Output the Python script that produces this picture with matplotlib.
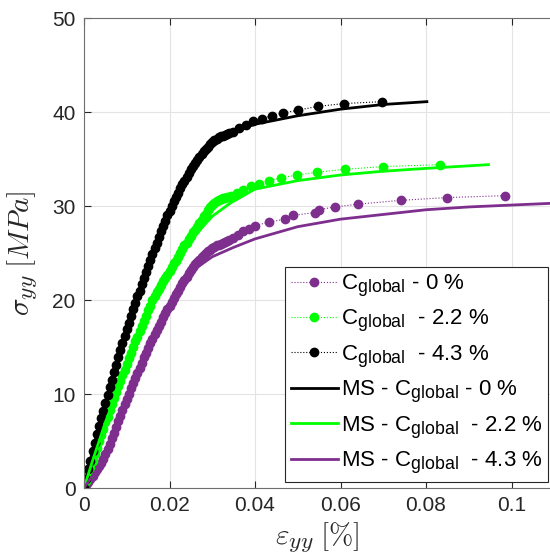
import matplotlib
matplotlib.use("Agg")
import matplotlib.pyplot as plt
import matplotlib._mathtext as mathtext_internals

plt.rcParams['font.family'] = ['Liberation Sans', 'DejaVu Sans']
plt.rcParams['mathtext.fontset'] = 'custom'
plt.rcParams['mathtext.rm'] = 'Liberation Sans'
plt.rcParams['mathtext.it'] = 'Liberation Sans:italic'
plt.rcParams['mathtext.bf'] = 'Liberation Sans:bold'
# MATLAB draws subscripts a bit larger than matplotlib's default
mathtext_internals.SHRINK_FACTOR = 0.8

# experimental points: dense part shares one strain grid, then sparse tails
strain_dense = [0, 0.0005, 0.001, 0.0015, 0.002, 0.0025, 0.003, 0.0035, 0.004, 0.0045,
                0.005, 0.0055, 0.006, 0.0065, 0.007, 0.0075, 0.008, 0.0085, 0.009, 0.0095,
                0.010, 0.0105, 0.011, 0.0115, 0.012, 0.0125, 0.013, 0.0135, 0.014, 0.0145,
                0.015, 0.0155, 0.016, 0.0165, 0.017, 0.0175, 0.018, 0.0185, 0.019, 0.0195,
                0.020, 0.0205, 0.021, 0.0215, 0.022, 0.0225, 0.023, 0.0235, 0.024, 0.0245,
                0.025, 0.0255, 0.026, 0.0265, 0.027, 0.0275, 0.028, 0.0285, 0.029, 0.0295,
                0.030, 0.0305, 0.031, 0.0315, 0.032, 0.0325, 0.033, 0.0335, 0.034]

stress_dense_0 = [0, 0.3, 0.6, 0.95, 1.3, 1.65, 2.0, 2.35, 2.7, 3.1,
                  3.6, 4.1, 4.7, 5.3, 5.9, 6.5, 7.1, 7.7, 8.3, 8.9,
                  9.5, 10.05, 10.6, 11.15, 11.7, 12.25, 12.8, 13.35, 13.9, 14.4,
                  14.9, 15.4, 15.9, 16.35, 16.8, 17.25, 17.7, 18.15, 18.6, 19.0,
                  19.4, 19.8, 20.2, 20.6, 21.0, 21.4, 21.8, 22.15, 22.5, 22.85,
                  23.2, 23.5, 23.8, 24.05, 24.3, 24.55, 24.8, 25.0, 25.2, 25.35,
                  25.5, 25.65, 25.8, 25.9, 26.0, 26.1, 26.2, 26.3, 26.4]
strain_tail_0 = [0.0349, 0.0361, 0.0373, 0.0386, 0.040, 0.0433, 0.047, 0.0488, 0.054,
                 0.055, 0.0586, 0.0642, 0.0741, 0.085, 0.0985]
stress_tail_0 = [26.6, 26.9, 27.3, 27.6, 27.9, 28.3, 28.6, 29.0, 29.3,
                 29.6, 29.9, 30.2, 30.6, 30.9, 31.1]

stress_dense_22 = [0, 0.7, 1.4, 2.1, 2.9, 3.6, 4.3, 5.0, 5.6, 6.3,
                   7.0, 7.6, 8.3, 8.9, 9.6, 10.2, 10.8, 11.4, 12.0, 12.6,
                   13.2, 13.8, 14.4, 15.0, 15.6, 16.1, 16.7, 17.2, 17.8, 18.3,
                   18.9, 19.4, 20.0, 20.4, 20.8, 21.2, 21.6, 22.0, 22.3, 22.7,
                   23.1, 23.5, 23.9, 24.2, 24.6, 25.0, 25.4, 25.8, 26.1, 26.5,
                   26.8, 27.2, 27.5, 27.8, 28.2, 28.5, 28.9, 29.2, 29.6, 29.9,
                   30.1, 30.3, 30.5, 30.6, 30.7, 30.8, 30.9, 31.0, 31.0]
strain_tail_22 = [0.0345, 0.0357, 0.0373, 0.039, 0.0409, 0.0433, 0.0461, 0.0498,
                  0.0546, 0.061, 0.070, 0.0833]
stress_tail_22 = [31.1, 31.4, 31.7, 32.1, 32.3, 32.7, 33.0, 33.3,
                  33.6, 33.9, 34.2, 34.4]

stress_dense_43 = [0, 1.0, 2.0, 2.9, 3.9, 4.8, 5.7, 6.6, 7.4, 8.2,
                   9.0, 9.9, 10.7, 11.5, 12.3, 13.1, 13.9, 14.7, 15.4, 16.2,
                   16.9, 17.6, 18.3, 19.0, 19.7, 20.4, 21.0, 21.7, 22.3, 23.0,
                   23.6, 24.3, 24.9, 25.5, 26.1, 26.7, 27.3, 27.9, 28.4, 29.0,
                   29.5, 30.0, 30.5, 31.0, 31.4, 31.9, 32.3, 32.7, 33.1, 33.5,
                   33.9, 34.3, 34.6, 34.9, 35.2, 35.5, 35.8, 36.1, 36.3, 36.6,
                   36.8, 37.0, 37.1, 37.3, 37.4, 37.5, 37.6, 37.7, 37.8]
strain_tail_43 = [0.0349, 0.0363, 0.0379, 0.0396, 0.0416, 0.0439, 0.0466, 0.0501,
                  0.0547, 0.0609, 0.0696]
stress_tail_43 = [37.9, 38.3, 38.6, 39.0, 39.3, 39.6, 39.9, 40.2,
                  40.6, 40.9, 41.1]

# MS model curves (lines)
strain_ms_black = [0, 0.002, 0.005, 0.010, 0.015, 0.020, 0.025, 0.030, 0.035, 0.040,
                   0.050, 0.060, 0.070, 0.0802]
stress_ms_black = [0, 4.0, 9.2, 16.5, 23.8, 29.4, 33.6, 36.3, 37.9, 38.7,
                   39.6, 40.3, 40.8, 41.1]

strain_ms_green = [0, 0.002, 0.005, 0.010, 0.015, 0.020, 0.025, 0.030, 0.0342, 0.040,
                   0.050, 0.060, 0.070, 0.080, 0.0946]
stress_ms_green = [0, 2.9, 7.0, 13.0, 18.8, 22.9, 26.4, 28.9, 30.3, 31.8,
                   32.7, 33.3, 33.7, 34.0, 34.4]

strain_ms_purple = [0, 0.003, 0.006, 0.010, 0.015, 0.020, 0.025, 0.030, 0.035, 0.040,
                    0.050, 0.060, 0.070, 0.080, 0.090, 0.100, 0.110]
stress_ms_purple = [0, 2.0, 4.8, 9.6, 15.0, 19.5, 23.0, 24.6, 25.6, 26.5,
                    27.8, 28.6, 29.1, 29.6, 29.9, 30.1, 30.3]

purple = '#7E2F8E'
green = '#00FF00'

fig = plt.figure(figsize=(5.5, 5.57), dpi=100)
ax = fig.add_axes([84 / 550, 69 / 557, 466 / 550, 470 / 557])

ax.plot(strain_dense + strain_tail_0, stress_dense_0 + stress_tail_0, ':', color=purple,
        lw=0.8, marker='o', ms=6, label=r'C$_{\mathrm{global}}$ - 0 %')
ax.plot(strain_dense + strain_tail_22, stress_dense_22 + stress_tail_22, ':', color=green,
        lw=0.8, marker='o', ms=6, label=r'C$_{\mathrm{global}}$  - 2.2 %')
ax.plot(strain_dense + strain_tail_43, stress_dense_43 + stress_tail_43, ':', color='black',
        lw=0.8, marker='o', ms=6, label=r'C$_{\mathrm{global}}$  - 4.3 %')
ax.plot(strain_ms_black, stress_ms_black, '-', color='black', lw=2,
        label=r'MS - C$_{\mathrm{global}}$ - 0 %')
ax.plot(strain_ms_green, stress_ms_green, '-', color=green, lw=2,
        label=r'MS - C$_{\mathrm{global}}$  - 2.2 %')
ax.plot(strain_ms_purple, stress_ms_purple, '-', color=purple, lw=2,
        label=r'MS - C$_{\mathrm{global}}$  - 4.3 %')

ax.set_xlim(0, 0.109)
ax.set_ylim(0, 50)
ax.set_xticks([0, 0.02, 0.04, 0.06, 0.08, 0.1])
ax.set_xticklabels(['0', '0.02', '0.04', '0.06', '0.08', '0.1'])
ax.set_yticks([0, 10, 20, 30, 40, 50])

ax.grid(True, color='#e3e3e3', lw=0.8)
ax.set_axisbelow(True)
ax.tick_params(direction='in', length=5, width=0.8, labelsize=15, colors='#262626',
               top=True, pad=6)
for side in ['left', 'bottom', 'top']:
    ax.spines[side].set_color('#6e6e6e')
    ax.spines[side].set_linewidth(0.8)
ax.spines['right'].set_visible(False)

ax.set_xlabel(r'$\varepsilon_{yy}\;[\%]$', fontsize=21, color='#262626',
              math_fontfamily='cm', labelpad=4)
ax.set_ylabel(r'$\sigma_{yy}\;[MPa]$', fontsize=21, color='#262626',
              math_fontfamily='cm', labelpad=9)

leg = ax.legend(loc='lower right', bbox_to_anchor=(0.996, 0.013), fontsize=16,
                frameon=True, fancybox=False, edgecolor='#262626', framealpha=1,
                handlelength=2.1, handletextpad=0.15, labelspacing=0.4,
                borderpad=0.25, borderaxespad=0)
leg.get_frame().set_linewidth(0.8)

fig.savefig('out.png', dpi=100)
